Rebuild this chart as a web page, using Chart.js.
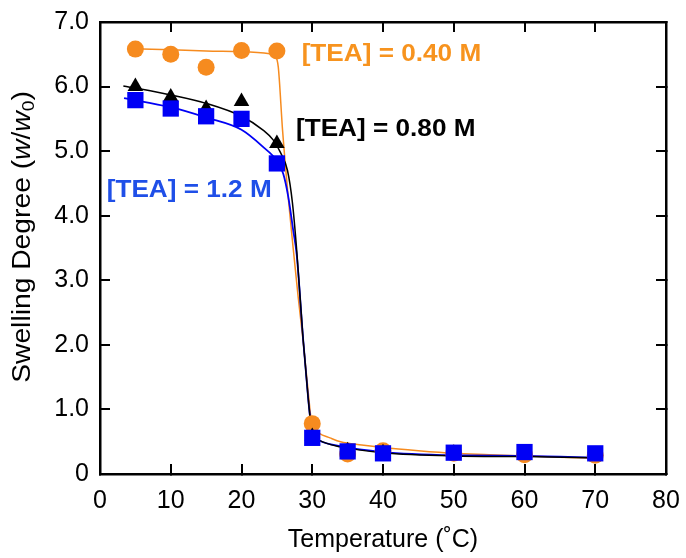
<!DOCTYPE html>
<html>
<head>
<meta charset="utf-8">
<script src="https://cdn.jsdelivr.net/npm/chart.js@4.4.1/dist/chart.umd.min.js"></script>
<style>
  html, body { margin: 0; padding: 0; background: #fff; }
</style>
</head>
<body>
<canvas id="chart" width="686" height="558"></canvas>
<script>
// measured points
const temps = [5, 10, 15, 20, 25, 30, 35, 40, 50, 60, 70];
const tea040 = [6.58, 6.50, 6.30, 6.56, 6.55, 0.78, 0.31, 0.36, 0.32, 0.30, 0.29];
const tea080 = [6.00, 5.84, 5.66, 5.77, 5.12, 0.58, 0.36, 0.33, 0.32, 0.29, 0.30];
const tea120 = [5.79, 5.66, 5.54, 5.50, 4.81, 0.56, 0.35, 0.32, 0.33, 0.34, 0.32];

// fitted curves
const fit040T = [4, 10, 15, 20, 24, 24.8, 25.2, 25.8, 26.6, 27.3, 28.0, 28.7, 29.4, 29.9, 30.3, 31, 32.5, 34, 37, 40, 45, 50, 55, 60, 65, 71];
const fit040Y = [6.59, 6.57, 6.55, 6.54, 6.51, 6.47, 6.30, 5.33, 4.29, 3.50, 2.75, 2.07, 1.30, 0.80, 0.70, 0.63, 0.56, 0.50, 0.45, 0.41, 0.36, 0.32, 0.30, 0.28, 0.26, 0.24];
const fit080T = [3.3, 10, 15, 20, 23, 24.5, 25.5, 26.5, 27.2, 27.8, 28.7, 29.4, 29.9, 30.3, 31, 34, 40, 50, 60, 71];
const fit080Y = [6.01, 5.87, 5.74, 5.54, 5.33, 5.17, 4.98, 4.70, 4.20, 3.47, 2.10, 1.20, 0.70, 0.58, 0.52, 0.42, 0.33, 0.28, 0.27, 0.25];
const fit120T = [3.4, 10, 15, 20, 23, 25, 25.9, 26.6, 27.3, 27.8, 28.7, 29.4, 29.9, 30.3, 31, 34, 40, 50, 60, 71];
const fit120Y = [5.82, 5.68, 5.52, 5.33, 5.07, 4.85, 4.65, 4.30, 3.78, 3.40, 2.10, 1.20, 0.70, 0.58, 0.52, 0.43, 0.34, 0.29, 0.28, 0.25];

const yTickLabels = ['0', '1.0', '2.0', '3.0', '4.0', '5.0', '6.0', '7.0'];

const noteText = ['[TEA] = 0.40 M', '[TEA] = 0.80 M', '[TEA] = 1.2 M'];
const noteColor = ['#f7931e', '#000000', '#1f4fe8'];
const noteAt = [[28.5, 6.5], [27.7, 5.33], [0.95, 4.4]];

const ORANGE = '#f68b1f';
const BLACK = '#000000';
const BLUE = '#0000f5';
const FONT = '"Liberation Sans", Arial, sans-serif';

const pts = (xs, ys) => xs.map((x, i) => ({ x, y: ys[i] }));

const curve = (xs, ys, color, width, order) => ({
  data: pts(xs, ys),
  showLine: true,
  borderColor: color,
  borderWidth: width,
  pointRadius: 0,
  cubicInterpolationMode: 'monotone',
  order,
});

const marks = (ys, color, style, radius, order) => ({
  data: pts(temps, ys),
  showLine: false,
  pointStyle: style,
  pointRadius: radius,
  backgroundColor: color,
  borderColor: color,
  borderWidth: 0,
  order,
});

// rich y-axis title and the curve labels
const extras = {
  id: 'extras',
  afterDraw(chart) {
    const { ctx, scales } = chart;
    ctx.save();
    ctx.fillStyle = '#000';
    ctx.textBaseline = 'middle';
    ctx.translate(23, 237);
    ctx.rotate(-Math.PI / 2);
    ctx.scale(1.13, 1);
    const parts = [
      { t: 'Swelling Degree (', f: '25px ' + FONT },
      { t: 'w', f: 'italic 25px ' + FONT },
      { t: '/', f: '25px ' + FONT },
      { t: 'w', f: 'italic 25px ' + FONT },
      { t: '0', f: '17px ' + FONT, dy: 6 },
      { t: ')', f: '25px ' + FONT },
    ];
    let total = 0;
    parts.forEach(p => { ctx.font = p.f; p.w = ctx.measureText(p.t).width; total += p.w; });
    let x = -total / 2;
    parts.forEach(p => {
      ctx.font = p.f;
      ctx.textAlign = 'left';
      ctx.fillText(p.t, x, p.dy || 0);
      x += p.w;
    });
    ctx.restore();

    ctx.save();
    ctx.font = 'bold 24px ' + FONT;
    ctx.textAlign = 'left';
    ctx.textBaseline = 'middle';
    noteText.forEach((t, i) => {
      ctx.save();
      ctx.fillStyle = noteColor[i];
      ctx.translate(scales.x.getPixelForValue(noteAt[i][0]), scales.y.getPixelForValue(noteAt[i][1]));
      ctx.scale(1.09, 1);
      ctx.fillText(t, 0, 0);
      ctx.restore();
    });
    ctx.restore();
  },
};

const tickGrid = { drawOnChartArea: false, drawTicks: true, tickLength: -10, lineWidth: 2, color: '#000' };
const frame = { display: true, color: '#000', width: 2.5 };

// keep label overhang from pushing the plot area in
const fixSize = (w, h) => s => {
  if (w !== null) s.width = w;
  if (h !== null) s.height = h;
  s.paddingTop = 0; s.paddingBottom = 0; s.paddingLeft = 0; s.paddingRight = 0;
};

new Chart('chart', {
  type: 'scatter',
  data: {
    datasets: [
      marks(tea120, BLUE, 'rect', 11.5, 0),
      marks(tea080, BLACK, 'triangle', 9, 1),
      marks(tea040, ORANGE, 'circle', 8.5, 2),
      curve(fit080T, fit080Y, BLACK, 1.5, 3),
      curve(fit120T, fit120Y, BLUE, 1.8, 4),
      curve(fit040T, fit040Y, ORANGE, 1.5, 5),
    ],
  },
  options: {
    responsive: false,
    animation: false,
    layout: { padding: { top: 22, right: 20, left: 0, bottom: 0 } },
    plugins: { legend: { display: false }, tooltip: { enabled: false } },
    scales: {
      x: {
        type: 'linear', position: 'bottom', min: 0, max: 80,
        afterFit: fixSize(null, 84),
        grid: tickGrid, border: frame,
        ticks: { stepSize: 10, padding: 22, color: '#000', font: { family: FONT, size: 25 }, maxRotation: 0 },
        title: { display: true, text: 'Temperature (˚C)', color: '#000', font: { family: FONT, size: 25 }, padding: { top: 0, bottom: 3 } },
      },
      y: {
        type: 'linear', position: 'left', min: 0, max: 7,
        afterFit: fixSize(100, null),
        grid: tickGrid, border: frame,
        ticks: { stepSize: 1, padding: 21, color: '#000', font: { family: FONT, size: 25 }, callback: v => yTickLabels[v] },
      },
      x2: {
        type: 'linear', position: 'top', min: 0, max: 80,
        afterFit: fixSize(null, 0),
        grid: tickGrid, border: frame,
        ticks: { stepSize: 10, display: false },
      },
      y2: {
        type: 'linear', position: 'right', min: 0, max: 7,
        afterFit: fixSize(0, null),
        grid: tickGrid, border: frame,
        ticks: { stepSize: 1, display: false },
      },
    },
  },
  plugins: [extras],
});
</script>
</body>
</html>
